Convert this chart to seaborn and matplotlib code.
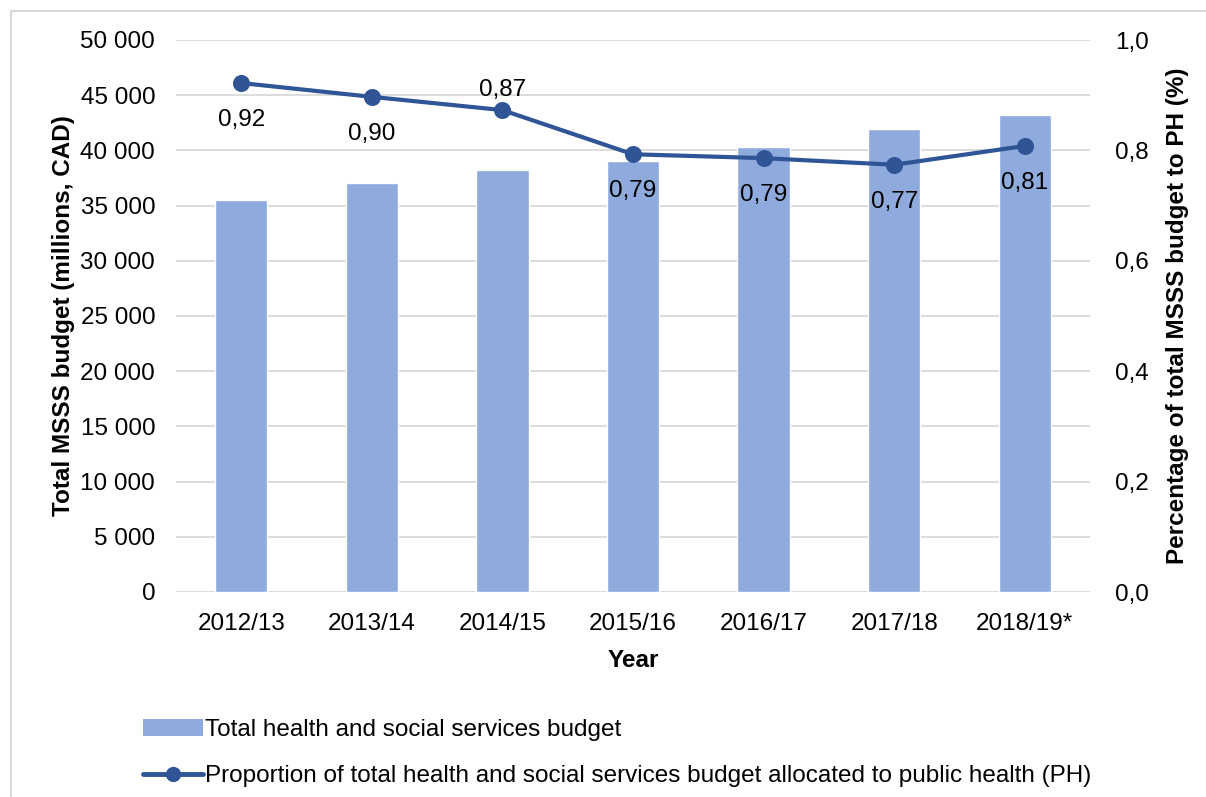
import matplotlib
matplotlib.use("Agg")
import matplotlib.pyplot as plt
import seaborn as sns
import numpy as np
from matplotlib.patches import Patch
from matplotlib.lines import Line2D

years = ["2012/13", "2013/14", "2014/15", "2015/16", "2016/17", "2017/18", "2018/19*"]
budget = [35500, 37050, 38250, 39050, 40300, 41950, 43200]
proportion = [0.922, 0.897, 0.873, 0.793, 0.786, 0.774, 0.808]
label_pos = ["below", "below", "above", "below", "below", "below", "below"]

bar_color = "#8faadc"
line_color = "#2f5597"
grid_color = "#d9d9d9"
FS = 17.5

sns.set_theme(style="white")
plt.rcParams['font.family'] = ['Liberation Sans', 'DejaVu Sans']
plt.rcParams['text.color'] = 'black'

fig = plt.figure(figsize=(12.06, 7.97), dpi=100)
ax = fig.add_axes([176/1206, 1-592/797, (1090-176)/1206, (592-40)/797])

sns.barplot(x=years, y=budget, color=bar_color, width=0.4, ax=ax, saturation=1, zorder=2)
ax.set_ylim(0, 50000)
ax.set_yticks(np.arange(0, 50001, 5000))
ax.set_yticklabels([f"{int(v):,}".replace(",", " ") for v in np.arange(0, 50001, 5000)])
ax.grid(axis="y", color=grid_color, linewidth=1.3, zorder=0)
ax.set_axisbelow(True)
for s in ax.spines.values():
    s.set_visible(False)
ax.tick_params(axis="both", length=0, labelsize=FS, colors="black")
ax.tick_params(axis="y", pad=15)
ax.tick_params(axis="x", pad=15)
ax.set_xlim(-0.5, len(years) - 0.5)
ax.set_xlabel("Year", fontsize=FS, fontweight="bold", labelpad=10, color="black")
ax.set_ylabel("Total MSSS budget (millions, CAD)", fontsize=FS, fontweight="bold",
              labelpad=4, color="black")

ax2 = ax.twinx()
sns.pointplot(x=years, y=proportion, color=line_color, markers="o", linestyles="-",
              ax=ax2, markersize=10, linewidth=3)
ax2.set_ylim(0, 1.0)
ax2.set_xlim(-0.5, len(years) - 0.5)
ax2.set_yticks(np.arange(0, 1.01, 0.2))
ax2.set_yticklabels([f"{v:.1f}".replace(".", ",") for v in np.arange(0, 1.01, 0.2)])
for s in ax2.spines.values():
    s.set_visible(False)
ax2.tick_params(axis="y", length=0, labelsize=FS, colors="black", pad=18)
ax2.set_ylabel("Percentage of total MSSS budget to PH (%)", fontsize=FS, fontweight="bold",
               labelpad=12, color="black")

for i, (v, pos) in enumerate(zip(proportion, label_pos)):
    txt = f"{v:.2f}".replace(".", ",")
    dy = -37 if pos == "below" else 20
    ax2.annotate(txt, (i, v), xytext=(0, dy), textcoords="offset pixels", ha="center",
                 va="center", fontsize=FS, color="black")

handles = [
    Patch(facecolor=bar_color, edgecolor="none"),
    Line2D([0], [0], color=line_color, linewidth=3.5, marker="o", markersize=10),
]
labels = ["Total health and social services budget",
          "Proportion of total health and social services budget allocated to public health (PH)"]
leg = fig.legend(handles, labels, loc="upper left", bbox_to_anchor=(133/1206, 1-709/797),
                 frameon=False, fontsize=FS, handlelength=2.5, handletextpad=0.05,
                 labelspacing=1.0, borderaxespad=0)
for t in leg.get_texts():
    t.set_color("black")

# outer frame lines
fig.add_artist(Line2D([11/1206, 11/1206], [0, 1-11/797], transform=fig.transFigure,
                      color=grid_color, linewidth=1.5))
fig.add_artist(Line2D([11/1206, 1], [1-11/797, 1-11/797], transform=fig.transFigure,
                      color=grid_color, linewidth=1.5))

fig.savefig("out.png", dpi=100)
